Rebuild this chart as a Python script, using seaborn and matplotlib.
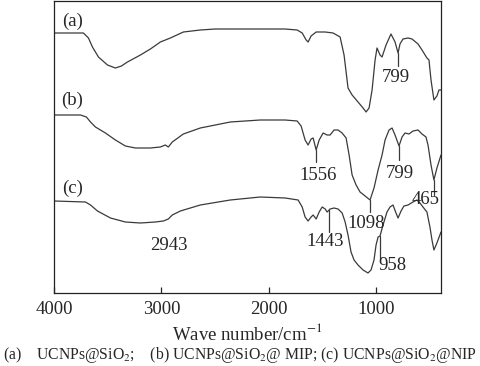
import numpy as np
import pandas as pd
import matplotlib
matplotlib.use('Agg')
import matplotlib.pyplot as plt
import seaborn as sns

# FTIR spectra (transmittance in arbitrary units, curves stacked)
wn_a = [4000, 3726, 3679, 3642, 3586, 3502, 3428, 3372, 3316, 3195, 3102, 3009, 2916,
        2795, 2637, 2498, 2172, 1847, 1735, 1688, 1651, 1633, 1605, 1558, 1474, 1400,
        1335, 1298, 1261, 1223, 1168, 1121, 1093, 1065, 1037, 1009, 991, 963, 944, 907,
        861, 823, 795, 777, 749, 702, 665, 609, 572, 526, 507, 488, 461, 433, 414, 395]
t_a = [261, 261, 256, 247, 237, 229, 226, 228, 232, 239, 245, 252, 256,
       262, 264, 265, 265, 265, 264, 261, 254, 252, 258, 262, 262, 261,
       257, 239, 206, 199, 192, 186, 182, 186, 204, 234, 246, 239, 237, 249,
       260, 252, 241, 250, 255, 256, 255, 250, 244, 236, 234, 214, 194, 198, 204, 204]

wn_b = [4000, 3753, 3698, 3660, 3614, 3521, 3428, 3335, 3242, 3102, 3009, 2963, 2935,
        2898, 2795, 2637, 2358, 2079, 1847, 1735, 1698, 1661, 1633, 1605, 1586, 1558,
        1530, 1493, 1456, 1428, 1391, 1354, 1316, 1279, 1251, 1223, 1186, 1149, 1102,
        1056, 1019, 981, 944, 916, 879, 851, 823, 786, 758, 730, 693, 656, 609, 572,
        535, 516, 488, 461, 433, 395]
t_b = [179, 179, 177, 172, 167, 161, 154, 148, 146, 146, 147, 149, 147,
       152, 160, 166, 172, 174, 174, 173, 168, 154, 149, 155, 156, 144,
       154, 161, 159, 159, 164, 164, 161, 156, 139, 119, 109, 102, 98,
       94, 106, 124, 139, 154, 164, 166, 159, 148, 157, 161, 160, 163, 164, 160,
       157, 149, 129, 114, 126, 139]

wn_c = [4000, 3707, 3660, 3595, 3474, 3335, 3195, 3056, 2981, 2935, 2898, 2823, 2637,
        2358, 2079, 1847, 1726, 1688, 1661, 1633, 1605, 1586, 1558, 1530, 1502, 1474,
        1456, 1428, 1391, 1354, 1316, 1288, 1261, 1233, 1205, 1168, 1121, 1075, 1047,
        1019, 1000, 981, 963, 935, 898, 870, 842, 814, 795, 767, 740, 702, 656, 619,
        591, 563, 526, 498, 479, 461, 433, 395]
t_c = [93, 92, 89, 83, 76, 72, 71, 72, 73, 75, 79, 83, 89,
       94, 97, 96, 94, 87, 77, 73, 77, 79, 75, 82, 87, 85,
       82, 85, 86, 85, 81, 72, 59, 42, 34, 29, 24, 21, 24,
       34, 49, 57, 58, 69, 82, 87, 89, 81, 76, 83, 88, 89, 92, 94,
       91, 87, 82, 67, 54, 44, 51, 62]

curve_names = ['(a)', '(b)', '(c)']
curve_label_y = [273, 194, 106]

# peak labels: text, text position, marker line x, marker line y-range
peak_text = ['799', '1556', '799', '1098', '465', '1443', '958', '2943']
peak_text_x = [814, 1540, 777, 1093, 535, 1474, 851, 2928]
peak_text_y = [216, 119, 121, 70, 94, 53, 29, 48]
peak_line_x = [795, 1556, 786, 1060, 461, 1437, 963, None]
peak_line_y0 = [241, 144, 148, 94, 114, 84, 58, None]
peak_line_y1 = [228, 132, 134, 82, 99, 62, 36, None]

sns.set_style('white')
plt.rcParams['font.family'] = ['Liberation Serif', 'DejaVu Serif']
plt.rcParams['mathtext.fontset'] = 'stix'

fig = plt.figure(figsize=(4.8, 3.66), dpi=100)
ax = fig.add_axes([54 / 480, 73 / 366, 387 / 480, 292 / 366])

line_color = '#3a3a3a'
for wn, t in [(wn_a, t_a), (wn_b, t_b), (wn_c, t_c)]:
    sns.lineplot(x=wn, y=t, ax=ax, sort=False, estimator=None, color=line_color, lw=0.9)

for name, y in zip(curve_names, curve_label_y):
    ax.text(3828, y, name, ha='center', va='center', fontsize=13.5)

for i in range(len(peak_text)):
    ax.text(peak_text_x[i], peak_text_y[i], peak_text[i], ha='center', va='center', fontsize=13.5)
    if peak_line_x[i] is not None:
        ax.plot([peak_line_x[i], peak_line_x[i]], [peak_line_y0[i], peak_line_y1[i]],
                color=line_color, lw=0.9)

ax.set_xlim(4000, 395)
ax.set_ylim(1, 293)
ax.set_xticks([4000, 3000, 2000, 1000])
ax.set_xticklabels(['4000', '3000', '2000', '1000'])
ax.set_yticks([])
ax.tick_params(axis='x', direction='in', length=4, width=0.9, labelsize=13.5, pad=6, bottom=True)
for s in ax.spines.values():
    s.set_color('#222222')
    s.set_linewidth(0.9)
ax.set_xlabel('Wave number/cm$^{-1}$', fontsize=13.5, labelpad=3)

fig.text(0.006, 0.004,
         '(a)    UCNPs@SiO$_2$;    (b) UCNPs@SiO$_2$@ MIP; (c) UCNPs@SiO$_2$@NIP',
         ha='left', va='bottom', fontsize=11.3)

fig.savefig('out.png', dpi=100)
